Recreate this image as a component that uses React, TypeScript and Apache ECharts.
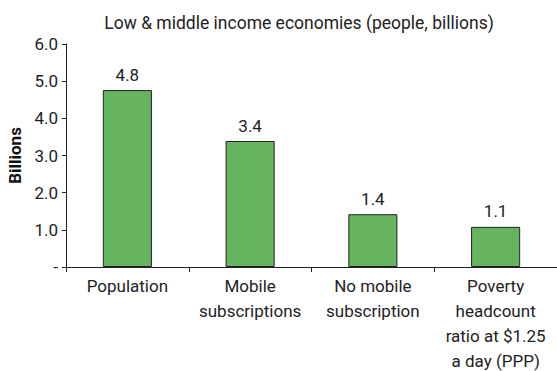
import React, { useEffect, useRef } from "react";
import * as echarts from "echarts";

const categories = ["Population", "Mobile\nsubscriptions", "No mobile\nsubscription", "Poverty\nheadcount\nratio at $1.25\na day (PPP)"];
const values = [4.76, 3.39, 1.42, 1.08];
const yTicks = [0, 1, 2, 3, 4, 5, 6];

const FONT = "Roboto, 'Liberation Sans Narrow', sans-serif";

export default function App() {
  const ref = useRef<HTMLDivElement>(null);
  useEffect(() => {
    if (!ref.current) return;
    const chart = echarts.init(ref.current, null, { renderer: "svg" });
    chart.setOption({
      animation: false,
      backgroundColor: "#ffffff",
      textStyle: { fontFamily: FONT },
      title: {
        text: "Low & middle income economies (people, billions)",
        left: 294,
        textAlign: "center",
        top: 9,
        textStyle: { fontFamily: FONT, fontSize: 17.5, fontWeight: "normal", color: "#222" },
      },
      grid: { left: 66, right: 0, top: 44, bottom: 104, outerBoundsMode: "none", containLabel: false },
      xAxis: {
        type: "category",
        data: categories,
        axisLine: { lineStyle: { color: "#222", width: 1 } },
        axisTick: { show: true, length: 5, lineStyle: { color: "#222" } },
        axisLabel: { fontFamily: FONT, fontSize: 17, color: "#222", margin: 6, lineHeight: 25, interval: 0 },
      },
      yAxis: {
        type: "value",
        min: yTicks[0],
        max: yTicks[yTicks.length - 1],
        interval: 1,
        name: "Billions",
        nameLocation: "middle",
        nameGap: 42,
        nameRotate: 90,
        nameTextStyle: { fontFamily: FONT, fontSize: 17, fontWeight: "bold", color: "#111" },
        axisLine: { show: true, lineStyle: { color: "#222", width: 1 } },
        axisTick: { show: true, length: 4, lineStyle: { color: "#222" } },
        splitLine: { show: false },
        axisLabel: {
          fontFamily: FONT,
          fontSize: 17,
          color: "#222",
          margin: 8,
          formatter: (v: number) => (v === 0 ? "-" : v.toFixed(1)),
        },
      },
      series: [
        {
          type: "bar",
          data: values,
          barWidth: "40%",
          itemStyle: { color: "#66b360", borderColor: "#222", borderWidth: 1 },
          label: {
            show: true,
            position: "top",
            distance: 7,
            fontFamily: FONT,
            fontSize: 17,
            color: "#222",
            formatter: (p: any) => Number(p.value).toFixed(1),
          },
        },
      ],
    });
    return () => chart.dispose();
  }, []);
  return <div ref={ref} style={{ position: "fixed", left: 0, top: 0, width: 557, height: 371 }} />;
}
